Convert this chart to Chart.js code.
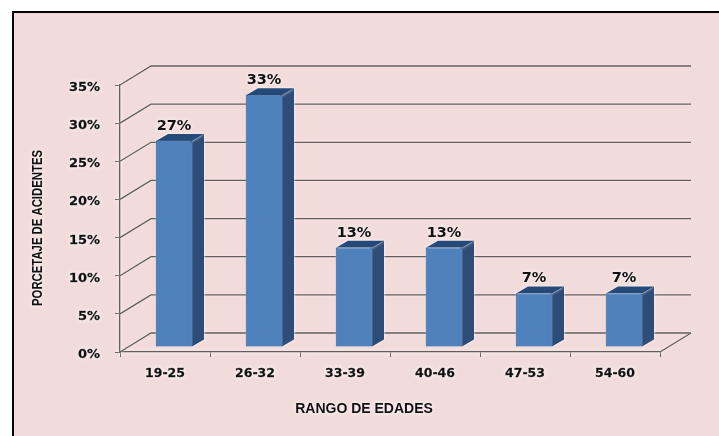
<!DOCTYPE html>
<html>
<head>
<meta charset="utf-8">
<title>Rango de edades</title>
<script src="https://cdn.jsdelivr.net/npm/chart.js@4/dist/chart.umd.min.js"></script>
<style>
  html, body { margin: 0; padding: 0; background: #fff; overflow: hidden; }
  #frame { position: absolute; left: 12px; top: 11px; width: 707px; height: 425px; background: #f2dcdb; border-top: 2px solid #000; border-left: 2px solid #000; }
  #myChart { position: absolute; left: 0; top: 0; }
</style>
</head>
<body>
<div id="frame"></div>
<canvas id="myChart" width="719" height="436"></canvas>
<script>
const categories = ['19-25', '26-32', '33-39', '40-46', '47-53', '54-60'];
const porcentajes = [27, 33, 13, 13, 7, 7];
const yTicks = [0, 5, 10, 15, 20, 25, 30, 35];
const xTitle = 'RANGO DE EDADES';
const yTitle = 'PORCETAJE DE ACIDENTES';

// depth of the fake 3d box, and of each bar inside it
const wallDx = 31, wallDy = -19;
const barDx = 9, barDy = -5;
const sideDx = 12, sideDy = -7;
const lineColor = '#625d5d';

const fake3d = {
  id: 'fake3d',
  beforeDraw(chart) {
    // axis text gets the white halo of the original
    const ctx = chart.ctx;
    ctx.shadowColor = 'rgba(255,255,255,0.95)';
    ctx.shadowBlur = 4;
  },
  beforeDatasetsDraw(chart) {
    const ctx = chart.ctx;
    const x = chart.scales.x, y = chart.scales.y;
    ctx.shadowBlur = 0;
    ctx.shadowColor = 'transparent';

    ctx.save();
    ctx.strokeStyle = lineColor;
    ctx.lineWidth = 1.3;
    ctx.shadowColor = 'rgba(255,255,255,0.6)';
    ctx.shadowBlur = 2;
    yTicks.forEach(function (t) {
      const py = y.getPixelForValue(t);
      ctx.beginPath();
      ctx.moveTo(x.left, py);
      ctx.lineTo(x.left + wallDx, py + wallDy);
      ctx.lineTo(x.right + wallDx, py + wallDy);
      ctx.stroke();
    });
    // right edge of the floor
    const py0 = y.getPixelForValue(0);
    ctx.beginPath();
    ctx.moveTo(x.right, py0);
    ctx.lineTo(x.right + wallDx, py0 + wallDy);
    ctx.stroke();
    ctx.restore();

    ctx.save();
    ctx.translate(barDx, barDy);
    ctx.shadowColor = 'rgba(255,255,255,0.9)';
    ctx.shadowBlur = 3;
    chart.getDatasetMeta(0).data.forEach(function (b) {
      const l = b.x - b.width / 2, r = b.x + b.width / 2;
      // side
      ctx.fillStyle = '#2d4c78';
      ctx.beginPath();
      ctx.moveTo(r, b.y);
      ctx.lineTo(r + sideDx, b.y + sideDy);
      ctx.lineTo(r + sideDx, b.base + sideDy);
      ctx.lineTo(r, b.base);
      ctx.closePath();
      ctx.fill();
      // top
      ctx.fillStyle = '#264a78';
      ctx.beginPath();
      ctx.moveTo(l, b.y);
      ctx.lineTo(l + sideDx, b.y + sideDy);
      ctx.lineTo(r + sideDx, b.y + sideDy);
      ctx.lineTo(r, b.y);
      ctx.closePath();
      ctx.fill();
    });
  },
  afterDatasetsDraw(chart) {
    const ctx = chart.ctx;
    ctx.restore();

    ctx.save();
    ctx.font = 'bold 14.5px "DejaVu Sans"';
    ctx.fillStyle = '#111';
    ctx.textAlign = 'center';
    ctx.textBaseline = 'middle';
    ctx.shadowColor = 'rgba(255,255,255,0.95)';
    ctx.shadowBlur = 4;
    chart.getDatasetMeta(0).data.forEach(function (b, i) {
      ctx.fillText(porcentajes[i] + '%', b.x + barDx, b.y + barDy - 15);
    });

    // axis titles sit off centre in the original, so they are placed by hand
    ctx.font = 'bold 14px "Liberation Sans"';
    ctx.fillText(xTitle, 364, 409);
    ctx.save();
    ctx.translate(38, 228);
    ctx.rotate(-Math.PI / 2);
    ctx.font = 'bold 14px "Liberation Sans"';
    ctx.scale(156 / ctx.measureText(yTitle).width, 1);
    ctx.fillText(yTitle, 0, 0);
    ctx.restore();
    ctx.restore();
  }
};

const ctx = document.getElementById('myChart').getContext('2d');
const chart = new Chart(ctx, {
  type: 'bar',
  data: {
    labels: categories,
    datasets: [{
      label: 'Porcentaje de accidentes',
      data: porcentajes,
      backgroundColor: '#4f81bd',
      borderColor: '#2f5f9a',
      borderWidth: 1,
      barThickness: 36
    }]
  },
  options: {
    responsive: false,
    animation: false,
    layout: { padding: { left: 0, right: 59, top: 85, bottom: 0 } },
    plugins: { legend: { display: false }, tooltip: { enabled: false } },
    scales: {
      x: {
        afterFit: function (s) { s.height = 84; },
        grid: { drawOnChartArea: false, drawTicks: true, tickLength: 5, color: lineColor },
        border: { color: lineColor, width: 1.3 },
        ticks: {
          color: '#111',
          padding: 9,
          maxRotation: 0,
          textStrokeColor: '#111',
          textStrokeWidth: 0.3,
          font: { family: '"DejaVu Sans"', size: 12.5, weight: 'bold' }
        }
      },
      y: {
        min: 0,
        max: 35,
        afterFit: function (s) { s.width = 120; },
        afterBuildTicks: function (s) { s.ticks = yTicks.map(function (v) { return { value: v }; }); },
        grid: { drawOnChartArea: false, drawTicks: true, tickLength: 5, color: lineColor },
        border: { color: lineColor, width: 1.3 },
        ticks: {
          color: '#111',
          padding: 15,
          textStrokeColor: '#111',
          textStrokeWidth: 0.3,
          font: { family: '"DejaVu Sans"', size: 13, weight: 'bold', lineHeight: 0.4 },
          // empty first line pushes the label down a little, as in the original
          callback: function (v) { return ['', v + '%']; }
        }
      }
    }
  },
  plugins: [fake3d]
});
</script>
</body>
</html>
